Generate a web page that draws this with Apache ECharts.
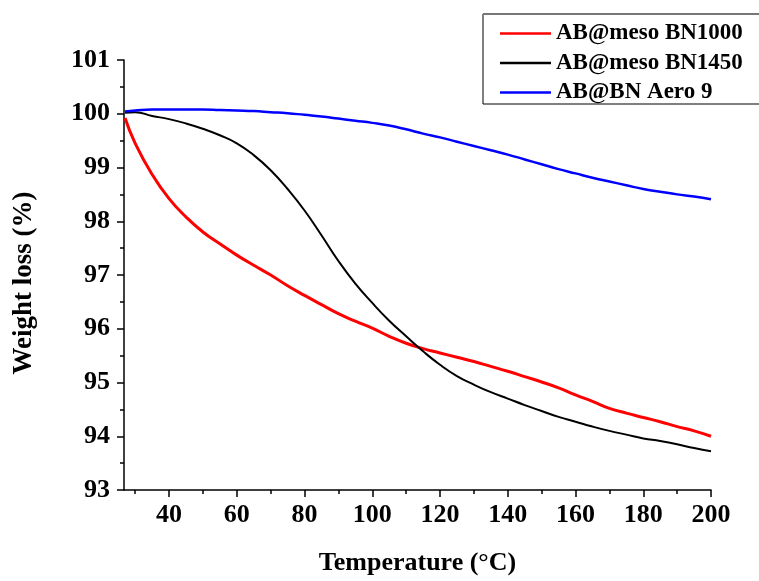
<!DOCTYPE html>
<html>
<head>
<meta charset="utf-8">
<script src="https://cdn.jsdelivr.net/npm/echarts@6/dist/echarts.min.js"></script>
<style>
html,body{margin:0;padding:0;background:#fff;}
#c{width:759px;height:581px;}
</style>
</head>
<body>
<div id="c"></div>
<script>
var temperature = [27,30,35,40,45,50,55,60,65,70,75,80,85,90,95,100,105,110,115,120,125,130,135,140,145,150,155,160,165,170,175,180,185,190,195,200];
var bn1000 = [99.92,99.45,98.87,98.42,98.08,97.8,97.58,97.37,97.18,97.0,96.8,96.62,96.45,96.28,96.14,96.01,95.86,95.73,95.63,95.55,95.47,95.39,95.3,95.21,95.11,95.01,94.9,94.77,94.65,94.52,94.43,94.35,94.27,94.18,94.1,94.0];
var bn1450 = [100.02,100.03,99.96,99.9,99.82,99.72,99.6,99.45,99.23,98.95,98.6,98.2,97.74,97.26,96.84,96.48,96.15,95.86,95.58,95.33,95.12,94.96,94.82,94.7,94.58,94.47,94.36,94.27,94.18,94.1,94.03,93.96,93.91,93.85,93.78,93.72];
var aero9 = [100.04,100.06,100.08,100.08,100.08,100.08,100.07,100.06,100.05,100.03,100.01,99.98,99.95,99.91,99.87,99.83,99.78,99.71,99.63,99.56,99.48,99.4,99.32,99.24,99.15,99.06,98.97,98.89,98.81,98.74,98.67,98.6,98.55,98.5,98.46,98.41];
var seriesNames = ['AB@meso BN1000','AB@meso BN1450','AB@BN Aero 9'];
var xMajorTicks = [40,60,80,100,120,140,160,180,200];
var xMinorTicks = [30,50,70,90,110,130,150,170,190];

function pairs(xs, ys){ return xs.map(function(x,i){ return [x, ys[i]]; }); }

var font = 'Liberation Serif, Times New Roman, serif';
var chart = echarts.init(document.getElementById('c'), null, {renderer:'canvas'});
chart.setOption({
  backgroundColor:'#fff',
  animation:false,
  grid:{left:124, top:60, right:48, bottom:89},
  legend:{
    orient:'vertical', left:500, top:22, padding:0,
    itemWidth:51, itemHeight:2.5, itemGap:6.5, icon:'rect',
    textStyle:{fontFamily:font, fontWeight:'bold', fontSize:23, color:'#000', lineHeight:23},
    data:seriesNames
  },
  graphic:[
    {type:'rect', shape:{x:483, y:14, width:290, height:90}, style:{fill:'none', stroke:'#000', lineWidth:1}, z:-1},
    {type:'line', shape:{x1:483, y1:14, x2:760, y2:14}, style:{stroke:'#777', lineWidth:2}, z:-1}
  ],
  xAxis:[{
    type:'value', min:26.7, max:200,
    name:'Temperature (\u00B0C)', nameLocation:'middle', nameGap:60,
    nameTextStyle:{fontFamily:font, fontWeight:'bold', fontSize:26, color:'#000'},
    axisLine:{show:true, lineStyle:{color:'#000', width:1.5}},
    axisTick:{show:true, inside:false, length:7, lineStyle:{color:'#000', width:1.5}, customValues:xMajorTicks},
    axisLabel:{fontFamily:font, fontWeight:'bold', fontSize:26, color:'#000', margin:12, customValues:xMajorTicks},
    splitLine:{show:false}
  },{
    type:'value', min:26.7, max:200, position:'bottom',
    axisLine:{show:false},
    axisTick:{show:true, inside:false, length:4, lineStyle:{color:'#000', width:1.5}, customValues:xMinorTicks},
    axisLabel:{show:false},
    splitLine:{show:false}
  }],
  yAxis:{
    type:'value', min:93, max:101, interval:1,
    name:'Weight loss (%)', nameLocation:'middle', nameGap:86, nameRotate:90,
    nameTextStyle:{fontFamily:font, fontWeight:'bold', fontSize:27, color:'#000', padding:[0,16,0,0]},
    axisLine:{show:true, lineStyle:{color:'#000', width:1.5}},
    axisTick:{show:true, inside:false, length:7, lineStyle:{color:'#000', width:1.5}},
    minorTick:{show:true, splitNumber:2, length:4, lineStyle:{color:'#000', width:1.5}},
    axisLabel:{fontFamily:font, fontWeight:'bold', fontSize:26, color:'#000', margin:14},
    splitLine:{show:false}
  },
  series:[
    {name:seriesNames[0], type:'line', data:pairs(temperature,bn1000), showSymbol:false, symbol:'none', smooth:0.5, color:'#ff0000', lineStyle:{color:'#ff0000', width:3}},
    {name:seriesNames[1], type:'line', data:pairs(temperature,bn1450), showSymbol:false, symbol:'none', smooth:0.5, color:'#000000', lineStyle:{color:'#000000', width:2}},
    {name:seriesNames[2], type:'line', data:pairs(temperature,aero9), showSymbol:false, symbol:'none', smooth:0.5, color:'#0000ff', lineStyle:{color:'#0000ff', width:2.5}}
  ]
});
</script>
</body>
</html>
